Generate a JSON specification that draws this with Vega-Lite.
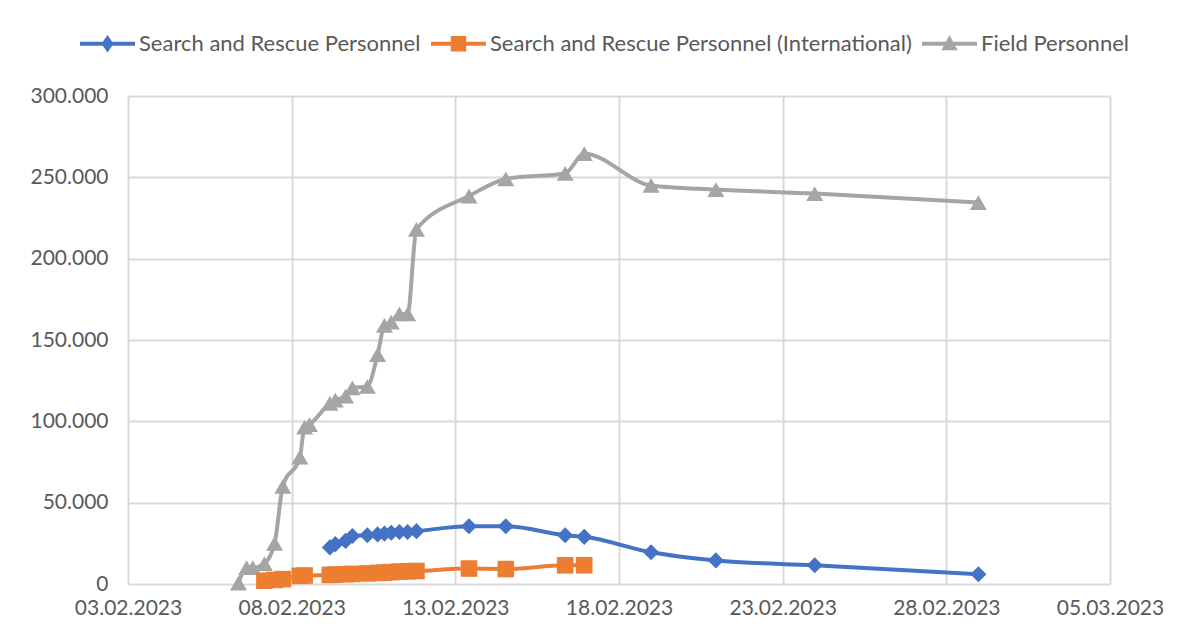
{
  "$schema": "https://vega.github.io/schema/vega-lite/v6.json",
  "autosize": "none",
  "width": 982,
  "height": 488,
  "padding": {"left": 128, "top": 96, "right": 79, "bottom": 60},
  "background": "white",
  "config": {
    "locale": {
      "number": {"decimal": ",", "thousands": ".", "grouping": [3], "currency": ["", " €"]}
    },
    "view": {"stroke": null},
    "font": "Lato",
    "axis": {
      "labelFont": "Lato",
      "labelFontSize": 21,
      "labelColor": "#595959",
      "gridColor": "#d9d9d9",
      "gridWidth": 2,
      "ticks": false,
      "domain": false,
      "title": null
    },
    "legend": {
      "orient": "none",
      "legendX": -48,
      "legendY": -80,
      "direction": "horizontal",
      "title": null,
      "labelFont": "Lato",
      "labelFontSize": 22,
      "labelColor": "#595959",
      "labelLimit": 600,
      "labelOffset": 4,
      "columnPadding": 10,
      "symbolSize": 3025,
      "symbolOpacity": 1,
      "symbolStrokeWidth": 0
    }
  },
  "data": {
    "values": [
      {"t": "2023-02-06T09:00:00", "series": "Field Personnel", "v": 500},
      {"t": "2023-02-06T15:00:00", "series": "Field Personnel", "v": 10000},
      {"t": "2023-02-06T19:30:00", "series": "Field Personnel", "v": 10000},
      {"t": "2023-02-07T04:00:00", "series": "Field Personnel", "v": 12500},
      {"t": "2023-02-07T11:30:00", "series": "Field Personnel", "v": 25000},
      {"t": "2023-02-07T17:30:00", "series": "Field Personnel", "v": 60000},
      {"t": "2023-02-08T06:00:00", "series": "Field Personnel", "v": 78000},
      {"t": "2023-02-08T09:30:00", "series": "Field Personnel", "v": 96500},
      {"t": "2023-02-08T13:00:00", "series": "Field Personnel", "v": 98000},
      {"t": "2023-02-09T04:00:00", "series": "Field Personnel", "v": 111000},
      {"t": "2023-02-09T08:00:00", "series": "Field Personnel", "v": 113000},
      {"t": "2023-02-09T15:30:00", "series": "Field Personnel", "v": 115500},
      {"t": "2023-02-09T20:30:00", "series": "Field Personnel", "v": 120500},
      {"t": "2023-02-10T07:30:00", "series": "Field Personnel", "v": 121500},
      {"t": "2023-02-10T15:00:00", "series": "Field Personnel", "v": 141000},
      {"t": "2023-02-10T20:00:00", "series": "Field Personnel", "v": 159000},
      {"t": "2023-02-11T01:00:00", "series": "Field Personnel", "v": 161000},
      {"t": "2023-02-11T07:00:00", "series": "Field Personnel", "v": 166000},
      {"t": "2023-02-11T13:00:00", "series": "Field Personnel", "v": 166000},
      {"t": "2023-02-11T19:30:00", "series": "Field Personnel", "v": 218000},
      {"t": "2023-02-13T10:00:00", "series": "Field Personnel", "v": 238500},
      {"t": "2023-02-14T13:00:00", "series": "Field Personnel", "v": 249000},
      {"t": "2023-02-16T08:30:00", "series": "Field Personnel", "v": 252500},
      {"t": "2023-02-16T22:30:00", "series": "Field Personnel", "v": 264500},
      {"t": "2023-02-18T23:30:00", "series": "Field Personnel", "v": 245000},
      {"t": "2023-02-20T23:00:00", "series": "Field Personnel", "v": 242500},
      {"t": "2023-02-23T23:30:00", "series": "Field Personnel", "v": 240000},
      {"t": "2023-02-28T23:30:00", "series": "Field Personnel", "v": 234500},

      {"t": "2023-02-09T04:00:00", "series": "Search and Rescue Personnel", "v": 22500},
      {"t": "2023-02-09T08:00:00", "series": "Search and Rescue Personnel", "v": 24500},
      {"t": "2023-02-09T15:30:00", "series": "Search and Rescue Personnel", "v": 26500},
      {"t": "2023-02-09T20:30:00", "series": "Search and Rescue Personnel", "v": 29500},
      {"t": "2023-02-10T07:30:00", "series": "Search and Rescue Personnel", "v": 30000},
      {"t": "2023-02-10T15:00:00", "series": "Search and Rescue Personnel", "v": 30500},
      {"t": "2023-02-10T20:00:00", "series": "Search and Rescue Personnel", "v": 31000},
      {"t": "2023-02-11T01:00:00", "series": "Search and Rescue Personnel", "v": 31500},
      {"t": "2023-02-11T07:00:00", "series": "Search and Rescue Personnel", "v": 32000},
      {"t": "2023-02-11T13:00:00", "series": "Search and Rescue Personnel", "v": 32000},
      {"t": "2023-02-11T19:30:00", "series": "Search and Rescue Personnel", "v": 32500},
      {"t": "2023-02-13T10:00:00", "series": "Search and Rescue Personnel", "v": 35500},
      {"t": "2023-02-14T13:00:00", "series": "Search and Rescue Personnel", "v": 35500},
      {"t": "2023-02-16T08:30:00", "series": "Search and Rescue Personnel", "v": 30000},
      {"t": "2023-02-16T22:30:00", "series": "Search and Rescue Personnel", "v": 29000},
      {"t": "2023-02-18T23:30:00", "series": "Search and Rescue Personnel", "v": 19500},
      {"t": "2023-02-20T23:00:00", "series": "Search and Rescue Personnel", "v": 14500},
      {"t": "2023-02-23T23:30:00", "series": "Search and Rescue Personnel", "v": 11500},
      {"t": "2023-02-28T23:30:00", "series": "Search and Rescue Personnel", "v": 6000},

      {"t": "2023-02-07T04:00:00", "series": "Search and Rescue Personnel (International)", "v": 2000},
      {"t": "2023-02-07T11:30:00", "series": "Search and Rescue Personnel (International)", "v": 2500},
      {"t": "2023-02-07T17:30:00", "series": "Search and Rescue Personnel (International)", "v": 3000},
      {"t": "2023-02-08T06:00:00", "series": "Search and Rescue Personnel (International)", "v": 5000},
      {"t": "2023-02-08T09:30:00", "series": "Search and Rescue Personnel (International)", "v": 5200},
      {"t": "2023-02-09T04:00:00", "series": "Search and Rescue Personnel (International)", "v": 5600},
      {"t": "2023-02-09T08:00:00", "series": "Search and Rescue Personnel (International)", "v": 5800},
      {"t": "2023-02-09T15:30:00", "series": "Search and Rescue Personnel (International)", "v": 6000},
      {"t": "2023-02-09T20:30:00", "series": "Search and Rescue Personnel (International)", "v": 6200},
      {"t": "2023-02-10T07:30:00", "series": "Search and Rescue Personnel (International)", "v": 6500},
      {"t": "2023-02-10T15:00:00", "series": "Search and Rescue Personnel (International)", "v": 6800},
      {"t": "2023-02-10T20:00:00", "series": "Search and Rescue Personnel (International)", "v": 7000},
      {"t": "2023-02-11T01:00:00", "series": "Search and Rescue Personnel (International)", "v": 7300},
      {"t": "2023-02-11T07:00:00", "series": "Search and Rescue Personnel (International)", "v": 7600},
      {"t": "2023-02-11T13:00:00", "series": "Search and Rescue Personnel (International)", "v": 7800},
      {"t": "2023-02-11T19:30:00", "series": "Search and Rescue Personnel (International)", "v": 8000},
      {"t": "2023-02-13T10:00:00", "series": "Search and Rescue Personnel (International)", "v": 9500},
      {"t": "2023-02-14T13:00:00", "series": "Search and Rescue Personnel (International)", "v": 9200},
      {"t": "2023-02-16T08:30:00", "series": "Search and Rescue Personnel (International)", "v": 11500},
      {"t": "2023-02-16T22:30:00", "series": "Search and Rescue Personnel (International)", "v": 11500}
    ]
  },
  "encoding": {
    "x": {
      "field": "t",
      "type": "temporal",
      "scale": {
        "domain": [
          {"year": 2023, "month": 2, "date": 3},
          {"year": 2023, "month": 3, "date": 5}
        ]
      },
      "axis": {
        "values": [
          {"year": 2023, "month": 2, "date": 3},
          {"year": 2023, "month": 2, "date": 8},
          {"year": 2023, "month": 2, "date": 13},
          {"year": 2023, "month": 2, "date": 18},
          {"year": 2023, "month": 2, "date": 23},
          {"year": 2023, "month": 2, "date": 28},
          {"year": 2023, "month": 3, "date": 5}
        ],
        "format": "%d.%m.%Y",
        "labelPadding": 13,
        "labelOverlap": false,
        "labelFlush": false
      }
    },
    "y": {
      "field": "v",
      "type": "quantitative",
      "scale": {"domain": [0, 300000]},
      "axis": {"values": [0, 50000, 100000, 150000, 200000, 250000, 300000], "format": ",d", "labelPadding": 20}
    },
    "order": {"field": "t", "type": "temporal"}
  },
  "layer": [
    {
      "mark": {"type": "line", "strokeWidth": 4, "interpolate": "monotone"},
      "encoding": {
        "color": {
          "field": "series",
          "type": "nominal",
          "scale": {
            "domain": ["Search and Rescue Personnel", "Search and Rescue Personnel (International)", "Field Personnel"],
            "range": ["#4472c4", "#ed7d31", "#a5a5a5"]
          },
          "legend": null
        }
      }
    },
    {
      "mark": {"type": "point", "filled": true, "opacity": 1},
      "encoding": {
        "color": {
          "field": "series",
          "type": "nominal",
          "scale": {
            "domain": ["Search and Rescue Personnel", "Search and Rescue Personnel (International)", "Field Personnel"],
            "range": ["#4472c4", "#ed7d31", "#a5a5a5"]
          },
          "legend": null
        },
        "shape": {
          "field": "series",
          "type": "nominal",
          "scale": {
            "domain": ["Search and Rescue Personnel", "Search and Rescue Personnel (International)", "Field Personnel"],
            "range": ["diamond", "square", "triangle-up"]
          },
          "legend": null
        },
        "size": {
          "field": "series",
          "type": "nominal",
          "scale": {
            "domain": ["Search and Rescue Personnel", "Search and Rescue Personnel (International)", "Field Personnel"],
            "range": [260, 290, 300]
          },
          "legend": null
        }
      }
    },
    {
      "transform": [{"filter": "datum.v < 0"}],
      "mark": {"type": "point", "filled": true, "opacity": 1},
      "encoding": {
        "color": {
          "field": "series",
          "type": "nominal",
          "scale": {
            "domain": ["Search and Rescue Personnel", "Search and Rescue Personnel (International)", "Field Personnel"],
            "range": ["#4472c4", "#ed7d31", "#a5a5a5"]
          }
        },
        "shape": {
          "field": "series",
          "type": "nominal",
          "scale": {
            "domain": ["Search and Rescue Personnel", "Search and Rescue Personnel (International)", "Field Personnel"],
            "range": [
              "M-1,-0.07H1V0.07H-1Z M0,-0.32L0.22,0L0,0.32L-0.22,0Z",
              "M-1,-0.07H1V0.07H-1Z M-0.28,-0.28H0.28V0.28H-0.28Z",
              "M-1,-0.07H1V0.07H-1Z M0,-0.32L0.3,0.24H-0.3Z"
            ]
          }
        }
      }
    }
  ],
  "resolve": {
    "scale": {"shape": "independent", "size": "independent"},
    "legend": {"color": "independent", "shape": "independent", "size": "independent"}
  }
}
